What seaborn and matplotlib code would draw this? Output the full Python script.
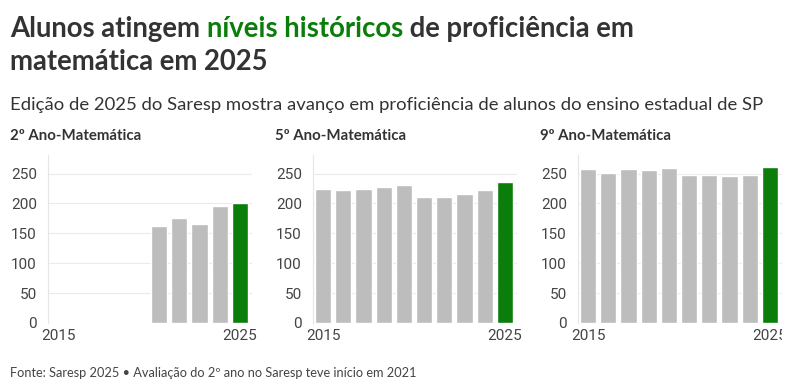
import matplotlib
matplotlib.use('Agg')
import matplotlib.pyplot as plt
from matplotlib.transforms import Bbox, TransformedBbox, IdentityTransform
import seaborn as sns
import pandas as pd
import numpy as np

# anos do Saresp (2020 sem edição)
years = ["2015", "2016", "2017", "2018", "2019", "2021", "2022", "2023", "2024", "2025"]
panel_titles = ["2º Ano-Matemática", "5º Ano-Matemática", "9º Ano-Matemática"]
ano2 = [np.nan, np.nan, np.nan, np.nan, np.nan, 163, 175, 166, 196, 200]
ano5 = [224, 223, 224, 227, 231, 210, 211, 215, 223, 236]
ano9 = [258, 251, 257, 256, 259, 247, 248, 246, 248, 261]
yticks = [0, 50, 100, 150, 200, 250]

GREEN = "#0a7d0a"
GRAY = "#bdbdbd"
TXT = "#333333"

sns.set_theme(style="white")
plt.rcParams['font.family'] = ['Lato', 'DejaVu Sans']

W, H = 794, 391
fig = plt.figure(figsize=(W / 100, H / 100), dpi=100)

def fx(px):
    return px / W

def fy(py):
    return 1 - py / H

palette = {y: (GREEN if y == "2025" else GRAY) for y in years}
series = [ano2, ano5, ano9]
lefts = [48, 313, 578]
top, bottom, width = 155, 323, 204

for i, (vals, title) in enumerate(zip(series, panel_titles)):
    ax = fig.add_axes([fx(lefts[i]), fy(bottom), fx(width), (bottom - top) / H])
    df = pd.DataFrame({"ano": years, "valor": vals})
    sns.barplot(data=df, x="ano", y="valor", hue="ano", palette=palette, order=years,
                hue_order=years, legend=False, width=0.8, saturation=1, ax=ax)
    ax.set_ylim(0, 281)
    ax.set_xlim(-0.5, 9.6)
    ax.set_yticks(yticks)
    ax.set_xticks([0, 9])
    ax.set_xticklabels(["2015", "2025"])
    ax.set_xlabel("")
    ax.set_ylabel("")
    ax.grid(axis="y", color="#ebebeb", linewidth=0.8)
    ax.set_axisbelow(True)
    for s in ["top", "right", "bottom"]:
        ax.spines[s].set_visible(False)
    ax.spines["left"].set_color("#e6e6e6")
    ax.spines["left"].set_linewidth(0.8)
    ax.tick_params(axis="both", length=0, labelsize=11, labelcolor="#444444")
    ax.tick_params(axis="y", pad=8)
    ax.tick_params(axis="x", pad=4)
    for lab in ax.get_xticklabels() + ax.get_yticklabels():
        lab.set_family(['Roboto', 'DejaVu Sans'])
    fig.text(fx(lefts[i] - 38), fy(140), title, fontsize=10.8, fontweight="bold",
             color=TXT, ha="left", va="baseline")

# recorte da borda direita (como no original)
ax3 = fig.axes[2]
for art in ax3.patches + ax3.get_xticklabels():
    art.set_clip_box(TransformedBbox(Bbox.from_extents(0, 0, 782, H), IdentityTransform()))
    art.set_clip_on(True)

# título com trecho em verde
renderer = fig.canvas.get_renderer()
x0 = fx(10)
parts = [("Alunos atingem ", TXT), ("níveis históricos", GREEN), (" de proficiência em", TXT)]
x = x0
for txt, col in parts:
    t = fig.text(x, fy(37), txt, fontsize=19.8, fontweight="bold", color=col,
                 ha="left", va="baseline")
    bb = t.get_window_extent(renderer=renderer)
    x += bb.width / fig.bbox.width
fig.text(x0, fy(70), "matemática em 2025", fontsize=19.8, fontweight="bold",
         color=TXT, ha="left", va="baseline")

fig.text(x0, fy(110), "Edição de 2025 do Saresp mostra avanço em proficiência de alunos do ensino estadual de SP",
         fontsize=13.3, color=TXT, ha="left", va="baseline")

fig.text(x0, fy(377), "Fonte: Saresp 2025 • Avaliação do 2º ano no Saresp teve início em 2021",
         fontsize=9.2, color="#444444", ha="left", va="baseline")

fig.savefig("out.png", dpi=100, facecolor="white")
